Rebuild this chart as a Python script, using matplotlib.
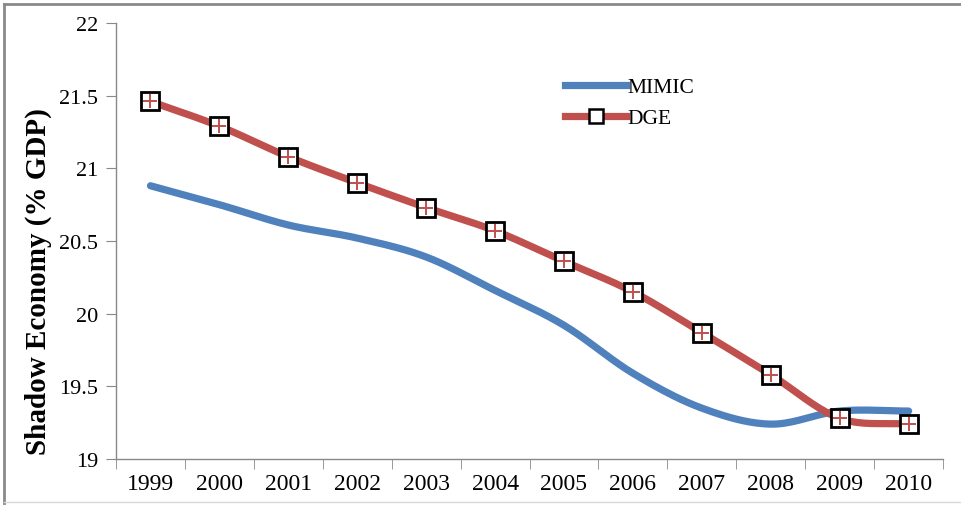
import numpy as np
import matplotlib.pyplot as plt
from matplotlib.lines import Line2D

plt.rcParams['font.family'] = ['Liberation Serif', 'DejaVu Serif']

years = ['1999', '2000', '2001', '2002', '2003', '2004',
         '2005', '2006', '2007', '2008', '2009', '2010']
mimic = [20.88, 20.75, 20.61, 20.52, 20.39, 20.16,
         19.92, 19.59, 19.35, 19.24, 19.33, 19.33]
dge = [21.46, 21.29, 21.08, 20.90, 20.73, 20.57,
       20.36, 20.15, 19.87, 19.58, 19.28, 19.24]

BLUE = '#4F81BD'
RED = '#C0504D'


def smooth(x, y, n=20, tension=0.5):
    # Hermite curve through the points, like a smoothed line in a spreadsheet
    x = np.asarray(x, float); y = np.asarray(y, float)
    px = np.concatenate([[2*x[0]-x[1]], x, [2*x[-1]-x[-2]]])
    py = np.concatenate([[2*y[0]-y[1]], y, [2*y[-1]-y[-2]]])
    xs, ys = [], []
    t = np.linspace(0, 1, n, endpoint=False)
    for i in range(1, len(px)-2):
        p0, p1, p2, p3 = py[i-1], py[i], py[i+1], py[i+2]
        m1 = tension*(p2-p0); m2 = tension*(p3-p1)
        if i == len(px)-3:
            m2 = p2 - p1  # flat end segment stays flat
        h00 = 2*t**3-3*t**2+1; h10 = t**3-2*t**2+t
        h01 = -2*t**3+3*t**2; h11 = t**3-t**2
        ys.append(h00*p1 + h10*m1 + h01*p2 + h11*m2)
        xs.append(px[i] + t*(px[i+1]-px[i]))
    xs.append([x[-1]]); ys.append([y[-1]])
    return np.concatenate(xs), np.concatenate(ys)


fig = plt.figure(figsize=(9.62, 5.06), dpi=100)
ax = fig.add_axes([0.1206, 0.0909, 0.8597, 0.8617])

x = np.arange(len(years))
sx, sy = smooth(x, mimic)
ax.plot(sx, sy, color=BLUE, lw=5.2, solid_capstyle='round', zorder=2)
sx, sy = smooth(x, dge)
ax.plot(sx, sy, color=RED, lw=5.2, solid_capstyle='round', zorder=3)
ax.plot(x, dge, ls='none', marker='s', ms=13, mfc='white', mec='black',
        mew=2.0, zorder=4)
ax.plot(x, dge, ls='none', marker='+', ms=10, mec=RED, mew=1.4, zorder=5)

ax.set_xlim(-0.5, len(years)-0.5)
ax.set_ylim(19, 22)
ax.set_yticks([19, 19.5, 20, 20.5, 21, 21.5, 22])
ax.set_yticklabels(['19', '19.5', '20', '20.5', '21', '21.5', '22'])
ax.set_xticks(x)
ax.set_xticklabels(years)
ax.set_xticks(np.arange(len(years)+1)-0.5, minor=True)
ax.tick_params(axis='x', which='major', length=0, pad=10, labelsize=17)
ax.tick_params(axis='x', which='minor', length=7, color='#888888')
ax.tick_params(axis='y', length=7, color='#888888', pad=6, labelsize=16)

for s in ['top', 'right']:
    ax.spines[s].set_visible(False)
for s in ['left', 'bottom']:
    ax.spines[s].set_color('#888888')
    ax.spines[s].set_linewidth(1.0)

ax.set_ylabel('Shadow Economy (% GDP)', fontsize=21, fontweight='bold')
ax.yaxis.set_label_coords(-0.078, 0.41)

handles = [
    Line2D([], [], color=BLUE, lw=5.2),
    Line2D([], [], color=RED, lw=5.2, marker='s', ms=10, mfc='white',
           mec='black', mew=1.8),
]
ax.legend(handles, ['MIMIC', 'DGE'], loc='upper left',
          bbox_to_anchor=(0.52, 0.92), frameon=False, fontsize=15.5,
          handlelength=2.8, handletextpad=0.1, labelspacing=0.5)

# outer frame: grey on the left and top, faint along the bottom
frame = '#8a8a8a'
fig.add_artist(Line2D([0.004, 0.004], [0.004, 0.99], color=frame, lw=2.0,
                      transform=fig.transFigure))
fig.add_artist(Line2D([0.004, 1.0], [0.99, 0.99], color=frame, lw=2.0,
                      transform=fig.transFigure))
fig.add_artist(Line2D([0.004, 1.0], [0.006, 0.006], color='#d8d8d8', lw=1.0,
                      transform=fig.transFigure))

fig.savefig('out.png', dpi=100)
